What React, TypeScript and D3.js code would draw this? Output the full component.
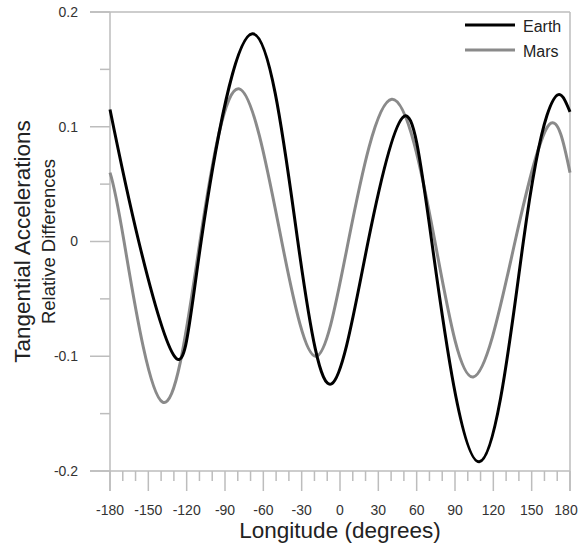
import React from 'react';
import * as d3 from 'd3';

// longitude / value pairs (extrema and zero crossings)
const earthLon = [-180, -157.5, -128, -108.7, -68.6, -33, -6.5, 22, 50, 71.8, 109, 143.5, 162, 171, 176, 180];
const earthVal = [0.115, 0, -0.102, 0, 0.181, 0, -0.124, 0, 0.109, 0, -0.192, 0, 0.11, 0.128, 0.123, 0.113];
const marsLon = [-180, -169, -138.8, -109.6, -78.8, -45.6, -18.8, 6.5, 40.5, 74.3, 104.3, 137, 163.8, 180];
const marsVal = [0.06, 0, -0.14, 0, 0.133, 0, -0.1, 0, 0.124, 0, -0.118, 0, 0.102, 0.06];

const xTicks = [-180, -150, -120, -90, -60, -30, 0, 30, 60, 90, 120, 150, 180];
const yTicks = [-0.2, -0.1, 0, 0.1, 0.2];
const yLabels = ['-0.2', '-0.1', '0', '0.1', '0.2'];

const seriesNames = ['Earth', 'Mars'];
const seriesColors = ['#000000', '#8a8a8a'];

const W = 579;
const H = 544;
const margin = { top: 12, right: 9, bottom: 73, left: 110 };

export default function App() {
  const innerW = W - margin.left - margin.right;
  const innerH = H - margin.top - margin.bottom;
  const x = d3.scaleLinear().domain([-180, 180]).range([0, innerW]);
  const y = d3.scaleLinear().domain([-0.2, 0.2]).range([innerH, 0]);

  const makePath = (lons: number[], vals: number[]) =>
    d3.line<number>()
      .x((d) => x(d))
      .y((_, i) => y(vals[i]))
      .curve(d3.curveNatural)(lons) || '';

  const minorX = d3.range(-180, 181, 10).filter((v) => v % 30 !== 0);
  const minorY = [-0.15, -0.05, 0.05, 0.15];
  const axisColor = '#bdbdbd';
  const font = 'Liberation Sans, Arial, sans-serif';

  return (
    <svg
      width={W}
      height={H}
      style={{ position: 'absolute', left: 0, top: 0, background: '#fff' }}
      fontFamily={font}
    >
      <g transform={`translate(${margin.left},${margin.top})`}>
        {/* frame */}
        <line x1={-20} x2={innerW} y1={0} y2={0} stroke={axisColor} strokeWidth={1.5} />
        <line x1={-20} x2={innerW} y1={innerH} y2={innerH} stroke={axisColor} strokeWidth={1.5} />
        <line x1={0} x2={0} y1={0} y2={innerH + 20} stroke={axisColor} strokeWidth={1.5} />
        <line x1={innerW} x2={innerW} y1={0} y2={innerH + 20} stroke={axisColor} strokeWidth={1.5} />

        {/* y ticks */}
        {yTicks.map((t, i) => (
          <g key={'y' + i} transform={`translate(0,${y(t)})`}>
            <line x1={-20} x2={0} stroke={axisColor} strokeWidth={1.5} />
            <text x={-32} dy="0.35em" textAnchor="end" fontSize={14} fill="#333">
              {yLabels[i]}
            </text>
          </g>
        ))}
        {minorY.map((t, i) => (
          <line key={'my' + i} x1={-10} x2={0} y1={y(t)} y2={y(t)} stroke={axisColor} strokeWidth={1.5} />
        ))}

        {/* x ticks */}
        {xTicks.map((t, i) => (
          <g key={'x' + i} transform={`translate(${x(t)},${innerH})`}>
            <line y1={0} y2={20} stroke={axisColor} strokeWidth={1.5} />
            <text x={t === 180 ? -4 : 0} y={44} textAnchor="middle" fontSize={14} fill="#333">
              {t}
            </text>
          </g>
        ))}
        {minorX.map((t, i) => (
          <line key={'mx' + i} x1={x(t)} x2={x(t)} y1={innerH} y2={innerH + 10} stroke={axisColor} strokeWidth={1.5} />
        ))}

        {/* series */}
        <path d={makePath(marsLon, marsVal)} fill="none" stroke={seriesColors[1]} strokeWidth={3} />
        <path d={makePath(earthLon, earthVal)} fill="none" stroke={seriesColors[0]} strokeWidth={3} />

        {/* legend */}
        {seriesNames.map((n, i) => (
          <g key={n} transform={`translate(${innerW - 105},${13 + i * 25})`}>
            <line x1={0} x2={50} stroke={seriesColors[i]} strokeWidth={3} />
            <text x={58} y={7} fontSize={16} fill="#222">
              {n}
            </text>
          </g>
        ))}

        {/* axis titles */}
        <text x={innerW / 2} y={innerH + 67} textAnchor="middle" fontSize={22.5} fill="#222">
          Longitude (degrees)
        </text>
        <text
          transform={`translate(-80,${innerH / 2}) rotate(-90)`}
          textAnchor="middle"
          fontSize={22.5}
          fill="#222"
        >
          Tangential Accelerations
        </text>
        <text
          transform={`translate(-55,${innerH / 2}) rotate(-90)`}
          textAnchor="middle"
          fontSize={18.5}
          fill="#222"
        >
          Relative Differences
        </text>
      </g>
    </svg>
  );
}
